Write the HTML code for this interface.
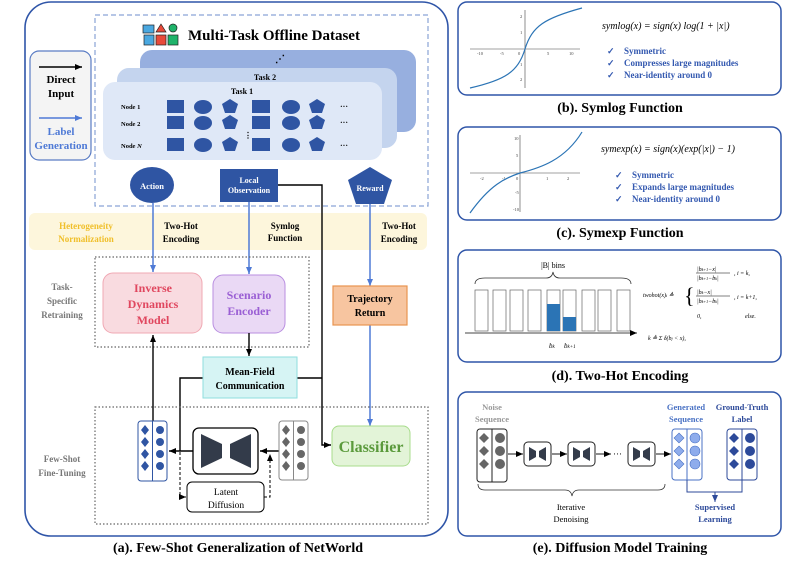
<!DOCTYPE html>
<html><head><meta charset="utf-8"><style>
body{margin:0;background:#fff}
svg{display:block;font-family:"Liberation Serif",serif}
.b{font-weight:bold}
</style></head><body>
<svg width="793" height="561" viewBox="0 0 793 561" xmlns="http://www.w3.org/2000/svg">
<defs>
<marker id="ak" markerWidth="8" markerHeight="8" refX="7" refY="4" orient="auto" markerUnits="userSpaceOnUse"><path d="M0,1 L7,4 L0,7z" fill="#000"/></marker>
<marker id="ab" markerWidth="8" markerHeight="8" refX="7" refY="4" orient="auto" markerUnits="userSpaceOnUse"><path d="M0,1 L7,4 L0,7z" fill="#4f7ad6"/></marker>
<marker id="ad" markerWidth="8" markerHeight="8" refX="7" refY="4" orient="auto" markerUnits="userSpaceOnUse"><path d="M0,1 L7,4 L0,7z" fill="#2d4a9a"/></marker>
</defs>
<!-- Panel a -->
<rect x="25" y="2" width="423" height="534" rx="26" fill="none" stroke="#2f55a8" stroke-width="1.6"/>
<text x="238" y="552" text-anchor="middle" class="b" font-size="14">(a). Few-Shot Generalization of NetWorld</text>
<rect x="95" y="15" width="333" height="191" fill="none" stroke="#8aa4d6" stroke-width="1.2" stroke-dasharray="5,3"/>
<!-- icons -->
<g><rect x="143" y="25" width="11" height="8" fill="#4aa8e0" stroke="#222" stroke-width=".7"/><rect x="144" y="35" width="10" height="10" fill="#4aa8e0" stroke="#222" stroke-width=".7"/>
<path d="M161,24 L166,32 L156,32z" fill="#e84a3a" stroke="#222" stroke-width=".7"/><rect x="156" y="35" width="10" height="10" fill="#e84a3a" stroke="#222" stroke-width=".7"/>
<circle cx="173" cy="28" r="4" fill="#1fb36a" stroke="#222" stroke-width=".7"/><rect x="168" y="35" width="10" height="10" fill="#1fb36a" stroke="#222" stroke-width=".7"/></g>
<text x="188" y="40" class="b" font-size="15">Multi-Task Offline Dataset</text>
<!-- legend -->
<rect x="30" y="51" width="61" height="109" rx="9" fill="#f4f4f4" stroke="#5a7cc4" stroke-width="1.2"/>
<line x1="39" y1="67" x2="82" y2="67" stroke="#000" stroke-width="1.5" marker-end="url(#ak)"/>
<text x="61" y="83" text-anchor="middle" class="b" font-size="11">Direct</text><text x="61" y="97" text-anchor="middle" class="b" font-size="11">Input</text>
<line x1="39" y1="118" x2="82" y2="118" stroke="#4f7ad6" stroke-width="1.5" marker-end="url(#ab)"/>
<text x="61" y="135" text-anchor="middle" class="b" font-size="11" fill="#4f7ad6">Label</text><text x="61" y="149" text-anchor="middle" class="b" font-size="11" fill="#4f7ad6">Generation</text>
<!-- tasks -->
<rect x="140" y="50" width="276" height="82" rx="12" fill="#97afdf"/>
<text x="275" y="62" font-size="10" class="b">⋰</text>
<rect x="117" y="68" width="280" height="80" rx="12" fill="#c4d4ee"/>
<text x="265" y="80" text-anchor="middle" class="b" font-size="8">Task 2</text>
<rect x="103" y="82" width="279" height="78" rx="12" fill="#dfe8f7"/>
<text x="242" y="94" text-anchor="middle" class="b" font-size="8">Task 1</text>
<g font-size="6.5" class="b"><text x="121" y="109">Node 1</text><text x="121" y="126">Node 2</text><text x="121" y="148">Node <tspan font-style="italic">N</tspan></text></g>
<g fill="#2f55a3">
<g id="row"><rect x="167" y="100" width="17" height="13"/><ellipse cx="203" cy="107" rx="9" ry="7"/><path d="M230,99 L238,104 L235,113 L225,113 L222,104z"/><rect x="252" y="100" width="18" height="13"/><ellipse cx="291" cy="107" rx="9" ry="7"/><path d="M317,99 L325,104 L322,113 L312,113 L309,104z"/></g>
<use href="#row" y="16"/><use href="#row" y="38"/></g>
<g font-size="8" class="b"><text x="340" y="109">···</text><text x="340" y="125">···</text><text x="340" y="148">···</text><text x="244" y="138">⋮</text></g>
<!-- action/obs/reward -->
<ellipse cx="152" cy="185" rx="22" ry="18" fill="#2f55a3"/>
<text x="152" y="189" text-anchor="middle" class="b" font-size="8.5" fill="#fff">Action</text>
<rect x="220" y="169" width="58" height="33" fill="#2f55a3"/>
<text x="249" y="183" text-anchor="middle" class="b" font-size="8" fill="#fff">Local</text><text x="249" y="193" text-anchor="middle" class="b" font-size="8" fill="#fff">Observation</text>
<path d="M370,167 L392,180 L384,204 L356,204 L348,180z" fill="#2f55a3"/>
<text x="370" y="191" text-anchor="middle" class="b" font-size="8" fill="#fff">Reward</text>
<!-- yellow band -->
<rect x="29" y="213" width="398" height="37" rx="6" fill="#fdf6dc"/>
<g class="b" font-size="9"><text x="86" y="229" text-anchor="middle" fill="#f0bf2a">Heterogeneity</text><text x="86" y="242" text-anchor="middle" fill="#f0bf2a">Normalization</text>
<text x="181" y="229" text-anchor="middle">Two-Hot</text><text x="181" y="242" text-anchor="middle">Encoding</text>
<text x="285" y="229" text-anchor="middle">Symlog</text><text x="285" y="241" text-anchor="middle">Function</text>
<text x="399" y="229" text-anchor="middle">Two-Hot</text><text x="399" y="242" text-anchor="middle">Encoding</text></g>
<!-- blue arrows -->
<g stroke="#4f7ad6" stroke-width="1.5" fill="none">
<line x1="153" y1="203" x2="153" y2="272" marker-end="url(#ab)"/>
<line x1="249" y1="202" x2="249" y2="274" marker-end="url(#ab)"/>
<line x1="370" y1="204" x2="370" y2="286" marker-end="url(#ab)"/>
<line x1="370" y1="325" x2="370" y2="426" marker-end="url(#ab)"/></g>
<!-- task specific -->
<rect x="95" y="257" width="214" height="90" fill="none" stroke="#666" stroke-width="1.2" stroke-dasharray="1.5,2"/>
<g fill="#777" class="b" font-size="9" text-anchor="middle"><text x="62" y="290">Task-</text><text x="62" y="304">Specific</text><text x="62" y="318">Retraining</text>
<text x="62" y="462">Few-Shot</text><text x="62" y="476">Fine-Tuning</text></g>
<rect x="103" y="273" width="99" height="60" rx="10" fill="#f9dbe0" stroke="#f0a8b3"/>
<g class="b" font-size="12" fill="#e0475f" text-anchor="middle"><text x="153" y="292">Inverse</text><text x="153" y="308">Dynamics</text><text x="153" y="324">Model</text></g>
<rect x="213" y="275" width="72" height="58" rx="10" fill="#ead9f5" stroke="#b98ee0"/>
<g class="b" font-size="12" fill="#9a5fd4" text-anchor="middle"><text x="249" y="299">Scenario</text><text x="249" y="315">Encoder</text></g>
<rect x="333" y="286" width="74" height="39" fill="#f7c5a0" stroke="#e8944f" stroke-width="1.2"/>
<g class="b" font-size="10" text-anchor="middle"><text x="370" y="302">Trajectory</text><text x="370" y="316">Return</text></g>
<!-- black lines -->
<g stroke="#000" stroke-width="1.4" fill="none">
<polyline points="278,185 322,185 322,445 331,445" marker-end="url(#ak)"/>
<line x1="249" y1="333" x2="249" y2="356" marker-end="url(#ak)"/>
<polyline points="297,378 322,378"/>
<polyline points="203,378 180,378 180,451"/>
<line x1="153" y1="421" x2="153" y2="335" marker-end="url(#ak)"/>
<line x1="193" y1="451" x2="169" y2="451" marker-end="url(#ak)"/>
<line x1="279" y1="451" x2="260" y2="451" marker-end="url(#ak)"/>
</g>
<rect x="203" y="357" width="94" height="41" fill="#d6f4f4" stroke="#8fdede"/>
<g class="b" font-size="10" text-anchor="middle"><text x="250" y="375">Mean-Field</text><text x="250" y="389">Communication</text></g>
<!-- few shot -->
<rect x="95" y="407" width="333" height="117" fill="none" stroke="#666" stroke-width="1.2" stroke-dasharray="1.5,2"/>
<rect x="138" y="421" width="29" height="60" rx="3" fill="#fff" stroke="#2f55a3"/>
<line x1="152.5" y1="421" x2="152.5" y2="481" stroke="#2f55a3"/>
<g fill="#2f55a3"><path d="M145,425 L149,430 L145,435 L141,430z"/><path d="M145,437 L149,442 L145,447 L141,442z"/><path d="M145,449 L149,454 L145,459 L141,454z"/><path d="M145,461 L149,466 L145,471 L141,466z"/>
<circle cx="160" cy="430" r="4"/><circle cx="160" cy="442" r="4"/><circle cx="160" cy="454" r="4"/><circle cx="160" cy="466" r="4"/></g>
<rect x="193" y="428" width="65" height="46" rx="6" fill="#fff" stroke="#000" stroke-width="1.3"/>
<path d="M201,434 L222,444 L222,458 L201,468z M251,434 L230,444 L230,458 L251,468z" fill="#333b4a"/>
<rect x="279" y="421" width="29" height="59" rx="3" fill="#fff" stroke="#888"/>
<line x1="293.5" y1="421" x2="293.5" y2="480" stroke="#888"/>
<g fill="#666"><path d="M286,425 L290,430 L286,435 L282,430z"/><path d="M286,437 L290,442 L286,447 L282,442z"/><path d="M286,449 L290,454 L286,459 L282,454z"/><path d="M286,461 L290,466 L286,471 L282,466z"/>
<circle cx="301" cy="430" r="4"/><circle cx="301" cy="442" r="4"/><circle cx="301" cy="454" r="4"/><circle cx="301" cy="466" r="4"/></g>
<rect x="187" y="482" width="77" height="30" rx="5" fill="#fff" stroke="#000"/>
<text x="226" y="495" text-anchor="middle" font-size="9.5">Latent</text><text x="226" y="508" text-anchor="middle" font-size="9.5">Diffusion</text>
<g stroke="#000" stroke-dasharray="3,2" fill="none"><polyline points="180,452 180,497 186,497" marker-end="url(#ak)"/><polyline points="264,497 270,497 270,454" marker-end="url(#ak)"/></g>
<rect x="332" y="426" width="78" height="40" rx="7" fill="#e3f4d8" stroke="#a8dc8c"/>
<text x="371" y="452" text-anchor="middle" class="b" font-size="16" fill="#5b9a3c">Classifier</text>

<!-- Panel b -->
<rect x="458" y="2" width="323" height="93" rx="9" fill="none" stroke="#2f55a8" stroke-width="1.5"/>
<text x="620" y="112" text-anchor="middle" class="b" font-size="14">(b). Symlog Function</text>
<g stroke="#444" stroke-width=".6"><line x1="470" y1="49" x2="580" y2="49"/><line x1="525" y1="10" x2="525" y2="88"/></g>
<g font-size="4.5" fill="#444"><text x="477" y="55">-10</text><text x="500" y="55">-5</text><text x="518" y="55">0</text><text x="547" y="55">5</text><text x="569" y="55">10</text><text x="520" y="18">2</text><text x="520" y="34">1</text><text x="520" y="66">1</text><text x="520" y="81">2</text></g>
<path d="M470,88 C505,80 518,72 525,49 C532,26 545,18 582,8" stroke="#2b74b5" stroke-width="1.2" fill="none"/>
<text x="602" y="29" font-size="10" font-style="italic">symlog(x) = sign(x) log(1 + |x|)</text>
<g class="b" font-size="9" fill="#3459b0"><text x="607" y="54">✓</text><text x="624" y="54">Symmetric</text><text x="607" y="66">✓</text><text x="624" y="66">Compresses large magnitudes</text><text x="607" y="78">✓</text><text x="624" y="78">Near-identity around 0</text></g>
<!-- Panel c -->
<rect x="458" y="127" width="323" height="93" rx="9" fill="none" stroke="#2f55a8" stroke-width="1.5"/>
<text x="620" y="237" text-anchor="middle" class="b" font-size="14">(c). Symexp Function</text>
<g stroke="#444" stroke-width=".6"><line x1="470" y1="173" x2="580" y2="173"/><line x1="520" y1="135" x2="520" y2="212"/></g>
<g font-size="4.5" fill="#444"><text x="480" y="180">-2</text><text x="502" y="180">-1</text><text x="516" y="180">0</text><text x="546" y="180">1</text><text x="567" y="180">2</text><text x="514" y="140">10</text><text x="516" y="157">5</text><text x="515" y="194">-5</text><text x="513" y="211">-10</text></g>
<path d="M470,213 C490,185 505,178 520,173 C540,168 565,160 582,132" stroke="#2b74b5" stroke-width="1.2" fill="none"/>
<text x="601" y="152" font-size="10" font-style="italic">symexp(x) = sign(x)(exp(|x|) − 1)</text>
<g class="b" font-size="9" fill="#3459b0"><text x="615" y="178">✓</text><text x="632" y="178">Symmetric</text><text x="615" y="190">✓</text><text x="632" y="190">Expands large magnitudes</text><text x="615" y="202">✓</text><text x="632" y="202">Near-identity around 0</text></g>
<!-- Panel d -->
<rect x="458" y="250" width="323" height="112" rx="9" fill="none" stroke="#2f55a8" stroke-width="1.5"/>
<text x="620" y="380" text-anchor="middle" class="b" font-size="14">(d). Two-Hot Encoding</text>
<g fill="#fff" stroke="#666" stroke-width=".7"><rect x="475" y="290" width="13" height="41"/><rect x="493" y="290" width="13" height="41"/><rect x="510" y="290" width="13" height="41"/><rect x="528" y="290" width="13" height="41"/><rect x="547" y="290" width="13" height="41"/><rect x="563" y="290" width="13" height="41"/><rect x="582" y="290" width="13" height="41"/><rect x="598" y="290" width="13" height="41"/><rect x="617" y="290" width="13" height="41"/></g>
<rect x="547" y="304" width="13" height="27" fill="#2b74b5"/><rect x="563" y="317" width="13" height="14" fill="#2b74b5"/>
<line x1="465" y1="333" x2="637" y2="333" stroke="#444" marker-end="url(#ak)"/>
<path d="M475,284 Q475,278 485,278 L546,278 Q552,278 553,272 Q554,278 560,278 L621,278 Q631,278 631,284" fill="none" stroke="#333" stroke-width=".8"/>
<text x="553" y="268" text-anchor="middle" font-size="8">|B| bins</text>
<text x="549" y="348" font-size="7" font-style="italic">b<tspan font-size="5">k</tspan></text><text x="564" y="348" font-size="7" font-style="italic">b<tspan font-size="5">k+1</tspan></text>
<g font-size="6" font-style="italic"><text x="643" y="297">twohot(x)<tspan font-size="4.5">i</tspan> ≜</text>
<text x="684" y="303" font-size="22" font-style="normal">{</text>
<text x="697" y="271">|b<tspan font-size="4">k+1</tspan>−x|</text><line x1="696" y1="273" x2="730" y2="273" stroke="#000" stroke-width=".5"/><text x="697" y="280">|b<tspan font-size="4">k+1</tspan>−b<tspan font-size="4">k</tspan>|</text><text x="734" y="275">,   i = k,</text>
<text x="697" y="294">|b<tspan font-size="4">k</tspan>−x|</text><line x1="696" y1="296" x2="730" y2="296" stroke="#000" stroke-width=".5"/><text x="697" y="303">|b<tspan font-size="4">k+1</tspan>−b<tspan font-size="4">k</tspan>|</text><text x="734" y="299">,   i = k+1,</text>
<text x="697" y="318">0,</text><text x="745" y="318">else.</text>
<text x="648" y="340">k ≜ Σ δ(b<tspan font-size="4">j</tspan> &lt; x),</text></g>
<!-- Panel e -->
<rect x="458" y="392" width="323" height="144" rx="9" fill="none" stroke="#2f55a8" stroke-width="1.5"/>
<text x="620" y="552" text-anchor="middle" class="b" font-size="14">(e). Diffusion Model Training</text>
<g class="b" font-size="8.5" text-anchor="middle"><text x="492" y="410" fill="#999">Noise</text><text x="492" y="422" fill="#999">Sequence</text>
<text x="686" y="410" fill="#4a72c4">Generated</text><text x="686" y="422" fill="#4a72c4">Sequence</text>
<text x="742" y="410" fill="#2d4a9a">Ground-Truth</text><text x="742" y="422" fill="#2d4a9a">Label</text>
<text x="715" y="510" fill="#2d4a9a">Supervised</text><text x="715" y="522" fill="#2d4a9a">Learning</text></g>
<text x="571" y="510" text-anchor="middle" font-size="8.5">Iterative</text><text x="571" y="522" text-anchor="middle" font-size="8.5">Denoising</text>
<rect x="477" y="429" width="30" height="53" rx="3" fill="#fff" stroke="#222"/><line x1="492" y1="429" x2="492" y2="482" stroke="#222"/>
<g fill="#666"><path d="M484,433 L489,438 L484,443 L479,438z"/><path d="M484,446 L489,451 L484,456 L479,451z"/><path d="M484,459 L489,464 L484,469 L479,464z"/><circle cx="500" cy="438" r="5"/><circle cx="500" cy="451" r="5"/><circle cx="500" cy="464" r="5"/></g>
<rect x="672" y="429" width="30" height="51" rx="3" fill="#fff" stroke="#4a72c4"/><line x1="687" y1="429" x2="687" y2="480" stroke="#4a72c4"/>
<g fill="#8eacec" stroke="#4a72c4" stroke-width=".6"><path d="M679,433 L684,438 L679,443 L674,438z"/><path d="M679,446 L684,451 L679,456 L674,451z"/><path d="M679,459 L684,464 L679,469 L674,464z"/><circle cx="695" cy="438" r="5"/><circle cx="695" cy="451" r="5"/><circle cx="695" cy="464" r="5"/></g>
<rect x="727" y="429" width="30" height="51" rx="3" fill="#fff" stroke="#2d4a9a"/><line x1="742" y1="429" x2="742" y2="480" stroke="#2d4a9a"/>
<g fill="#2d4a9a"><path d="M734,433 L739,438 L734,443 L729,438z"/><path d="M734,446 L739,451 L734,456 L729,451z"/><path d="M734,459 L739,464 L734,469 L729,464z"/><circle cx="750" cy="438" r="5"/><circle cx="750" cy="451" r="5"/><circle cx="750" cy="464" r="5"/></g>
<g id="un"><rect x="524" y="442" width="27" height="24" rx="4" fill="#fff" stroke="#222"/><path d="M529,447 L536,451 L536,457 L529,461z M546,447 L539,451 L539,457 L546,461z" fill="#333b4a"/></g>
<use href="#un" x="44"/><use href="#un" x="104"/>
<g stroke="#000" stroke-width=".9"><line x1="508" y1="454" x2="523" y2="454" marker-end="url(#ak)"/><line x1="552" y1="454" x2="567" y2="454" marker-end="url(#ak)"/><line x1="596" y1="454" x2="611" y2="454" marker-end="url(#ak)"/><line x1="656" y1="454" x2="671" y2="454" marker-end="url(#ak)"/></g>
<text x="613" y="457" font-size="9">···</text>
<path d="M478,484 Q478,490 485,490 L565,490 Q571,490 572,496 Q573,490 579,490 L658,490 Q665,490 665,484" fill="none" stroke="#333" stroke-width=".8"/>
<g stroke="#2d4a9a" fill="none"><polyline points="687,480 687,492 742,492 742,480"/><line x1="715" y1="492" x2="715" y2="502" marker-end="url(#ad)"/></g>
</svg>
</body></html>
